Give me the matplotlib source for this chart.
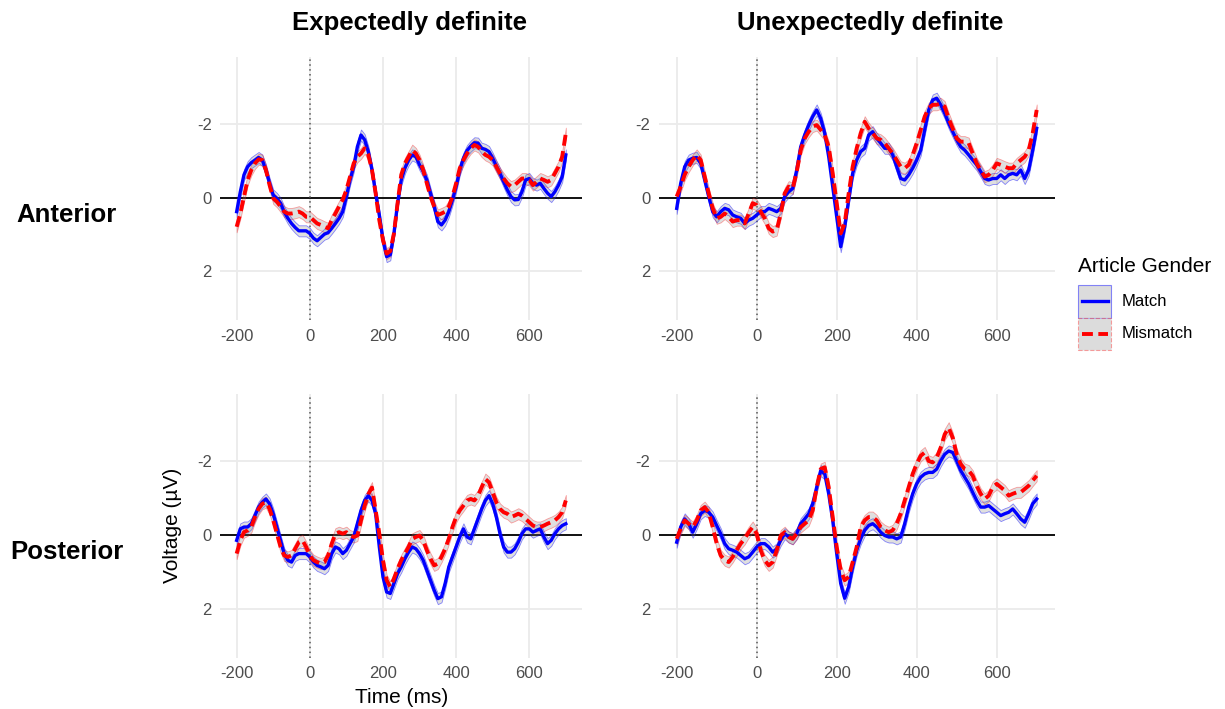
import matplotlib
matplotlib.use('Agg')
import matplotlib.pyplot as plt
import numpy as np
from matplotlib.lines import Line2D
from matplotlib.patches import Rectangle

plt.rcParams['font.family'] = ['Liberation Sans', 'DejaVu Sans']

time_ms = np.arange(-200, 701, 10)

# grand-average ERPs (µV), one value every 10 ms from -200 to 700
ant_exp_match = [
    0.38, -0.16, -0.62, -0.84, -0.95, -1.02, -1.09, -1.02, -0.75, -0.39,
    -0.07, 0.02, 0.15, 0.38, 0.56, 0.70, 0.81, 0.90, 0.90, 0.90,
    0.97, 1.10, 1.17, 1.08, 0.99, 0.95, 0.83, 0.70, 0.56, 0.38,
    -0.03, -0.48, -0.84, -1.38, -1.70, -1.57, -1.25, -0.75, -0.12, 0.47,
    1.15, 1.60, 1.55, 0.97, 0.15, -0.48, -0.80, -1.02, -1.16, -1.11,
    -0.89, -0.71, -0.48, -0.12, 0.24, 0.65, 0.74, 0.61, 0.38, 0.06,
    -0.30, -0.75, -1.07, -1.28, -1.40, -1.49, -1.48, -1.34, -1.31, -1.25,
    -1.07, -0.86, -0.66, -0.43, -0.21, -0.03, 0.06, 0.05, -0.16, -0.48,
    -0.52, -0.39, -0.34, -0.39, -0.25, -0.12, -0.03, -0.16, -0.34, -0.57,
    -1.16]
ant_exp_mismatch = [
    0.79, 0.43, -0.03, -0.48, -0.75, -0.93, -1.04, -1.02, -0.75, -0.34,
    0.02, 0.11, 0.24, 0.38, 0.43, 0.43, 0.41, 0.38, 0.43, 0.52,
    0.52, 0.61, 0.70, 0.74, 0.79, 0.83, 0.61, 0.43, 0.24, 0.06,
    -0.21, -0.57, -0.93, -1.11, -1.20, -1.34, -1.16, -0.75, -0.12, 0.61,
    1.15, 1.52, 1.45, 0.97, 0.15, -0.62, -0.93, -1.11, -1.29, -1.20,
    -1.02, -0.75, -0.39, -0.03, 0.24, 0.47, 0.43, 0.38, 0.24, -0.03,
    -0.39, -0.80, -1.02, -1.20, -1.34, -1.43, -1.38, -1.25, -1.16, -1.11,
    -1.02, -0.84, -0.66, -0.52, -0.39, -0.30, -0.34, -0.43, -0.52, -0.52,
    -0.48, -0.34, -0.43, -0.52, -0.48, -0.43, -0.48, -0.66, -0.84, -1.11,
    -1.75]

ant_unexp_match = [
    0.29, -0.39, -0.84, -1.02, -1.07, -1.09, -0.93, -0.48, -0.03, 0.38,
    0.52, 0.38, 0.29, 0.33, 0.47, 0.52, 0.56, 0.70, 0.61, 0.56,
    0.47, 0.38, 0.38, 0.29, 0.33, 0.38, 0.29, -0.03, -0.16, -0.25,
    -0.75, -1.38, -1.70, -1.97, -2.20, -2.38, -2.15, -1.75, -1.11, -0.30,
    0.52, 1.33, 0.79, 0.06, -0.66, -1.02, -1.25, -1.34, -1.70, -1.79,
    -1.61, -1.48, -1.34, -1.34, -1.16, -0.84, -0.52, -0.48, -0.62, -0.80,
    -1.02, -1.29, -1.84, -2.38, -2.65, -2.70, -2.52, -2.29, -2.02, -1.79,
    -1.57, -1.38, -1.29, -1.16, -1.02, -0.89, -0.71, -0.52, -0.48, -0.52,
    -0.52, -0.62, -0.52, -0.62, -0.66, -0.62, -0.75, -0.52, -0.75, -1.29,
    -1.88]
ant_unexp_mismatch = [
    -0.03, -0.30, -0.62, -0.84, -1.02, -1.16, -1.02, -0.57, -0.12, 0.29,
    0.56, 0.52, 0.43, 0.52, 0.65, 0.61, 0.61, 0.70, 0.43, 0.15,
    0.20, 0.38, 0.56, 0.83, 0.92, 0.88, 0.43, -0.12, -0.30, -0.25,
    -0.71, -1.29, -1.61, -1.79, -1.93, -1.97, -1.84, -1.70, -1.38, -0.66,
    0.15, 0.97, 0.70, -0.12, -0.84, -1.34, -1.75, -2.06, -1.88, -1.75,
    -1.61, -1.57, -1.48, -1.34, -1.20, -1.02, -0.84, -0.80, -0.89, -1.16,
    -1.48, -1.84, -2.20, -2.43, -2.52, -2.52, -2.56, -2.47, -2.15, -1.88,
    -1.61, -1.52, -1.52, -1.48, -1.20, -0.93, -0.75, -0.57, -0.62, -0.75,
    -0.93, -0.89, -0.84, -0.80, -0.80, -0.93, -1.02, -1.11, -1.29, -1.75,
    -2.38]

post_exp_match = [
    0.15, -0.16, -0.21, -0.21, -0.30, -0.52, -0.75, -0.88, -0.97, -0.84,
    -0.57, -0.21, 0.15, 0.51, 0.69, 0.74, 0.56, 0.51, 0.51, 0.51,
    0.60, 0.74, 0.83, 0.87, 0.92, 0.83, 0.51, 0.33, 0.38, 0.51,
    0.42, 0.24, 0.06, -0.30, -0.66, -0.93, -1.06, -0.93, -0.57, 0.33,
    1.14, 1.55, 1.59, 1.32, 1.05, 0.87, 0.65, 0.47, 0.33, 0.38,
    0.51, 0.69, 0.96, 1.23, 1.50, 1.73, 1.68, 1.32, 0.87, 0.60,
    0.33, 0.06, -0.16, 0.06, 0.11, -0.16, -0.43, -0.70, -0.93, -1.06,
    -0.84, -0.48, -0.03, 0.33, 0.47, 0.47, 0.38, 0.20, -0.03, -0.16,
    -0.16, -0.07, -0.12, -0.16, 0.06, 0.24, 0.15, -0.03, -0.16, -0.25,
    -0.30]
post_exp_mismatch = [
    0.51, 0.15, -0.07, -0.12, -0.21, -0.48, -0.70, -0.84, -0.88, -0.70,
    -0.39, -0.03, 0.33, 0.56, 0.60, 0.56, 0.38, 0.20, 0.15, 0.33,
    0.56, 0.69, 0.74, 0.78, 0.74, 0.56, 0.24, -0.03, -0.07, -0.03,
    -0.07, 0.02, 0.06, 0.02, -0.39, -0.79, -1.10, -1.28, -0.66, -0.03,
    0.69, 1.23, 1.41, 1.19, 0.92, 0.69, 0.51, 0.33, 0.11, 0.06,
    0.02, 0.15, 0.42, 0.65, 0.83, 0.78, 0.60, 0.38, 0.11, -0.21,
    -0.48, -0.66, -0.79, -0.93, -0.97, -0.93, -1.06, -1.29, -1.51, -1.42,
    -1.15, -0.88, -0.70, -0.61, -0.57, -0.48, -0.52, -0.57, -0.52, -0.43,
    -0.34, -0.25, -0.21, -0.21, -0.25, -0.30, -0.34, -0.39, -0.48, -0.61,
    -0.93]

post_unexp_match = [
    0.20, -0.21, -0.43, -0.30, -0.07, -0.30, -0.57, -0.66, -0.61, -0.48,
    -0.25, -0.03, 0.24, 0.38, 0.42, 0.47, 0.56, 0.65, 0.60, 0.47,
    0.33, 0.24, 0.24, 0.33, 0.47, 0.38, 0.15, -0.03, 0.06, 0.11,
    -0.03, -0.30, -0.43, -0.57, -0.84, -1.29, -1.74, -1.65, -1.11, -0.39,
    0.51, 1.32, 1.72, 1.41, 0.87, 0.42, 0.11, -0.12, -0.25, -0.30,
    -0.21, -0.07, 0.02, 0.06, 0.06, 0.11, 0.06, -0.30, -0.75, -1.11,
    -1.38, -1.56, -1.65, -1.69, -1.69, -1.78, -2.00, -2.18, -2.27, -2.23,
    -2.00, -1.74, -1.56, -1.38, -1.15, -0.93, -0.75, -0.75, -0.79, -0.70,
    -0.61, -0.52, -0.57, -0.61, -0.70, -0.57, -0.43, -0.34, -0.57, -0.84,
    -0.97]
post_unexp_mismatch = [
    0.11, -0.16, -0.39, -0.30, -0.21, -0.39, -0.66, -0.75, -0.61, -0.21,
    0.24, 0.56, 0.69, 0.74, 0.60, 0.42, 0.24, 0.11, -0.07, -0.21,
    -0.03, 0.42, 0.69, 0.83, 0.74, 0.42, 0.02, -0.07, 0.06, 0.11,
    -0.03, -0.21, -0.30, -0.39, -0.66, -1.29, -1.78, -1.83, -1.29, -0.48,
    0.33, 0.96, 1.23, 1.14, 0.74, 0.33, -0.21, -0.39, -0.48, -0.48,
    -0.39, -0.21, -0.12, -0.07, -0.12, -0.30, -0.57, -0.93, -1.29, -1.65,
    -1.92, -2.14, -2.23, -2.00, -1.96, -2.09, -2.36, -2.72, -2.90, -2.63,
    -2.18, -1.92, -1.78, -1.74, -1.60, -1.33, -1.11, -0.97, -1.06, -1.29,
    -1.38, -1.29, -1.20, -1.06, -1.11, -1.15, -1.15, -1.24, -1.33, -1.47,
    -1.60]

# standard error half-width of the ribbons (µV)
se_match = 0.15
se_mismatch = 0.15

x_ticks = [-200, 0, 200, 400, 600]
x_tick_labels = ['-200', '0', '200', '400', '600']
y_ticks = [-2, 0, 2]
y_tick_labels = ['-2', '0', '2']

col_titles = ['Expectedly definite', 'Unexpectedly definite']
row_titles = ['Anterior', 'Posterior']
conditions = ['Match', 'Mismatch']

W, H = 1225, 709
fig = plt.figure(figsize=(W / 100, H / 100), dpi=100)

def px_axes(left, top, right, bottom):
    return fig.add_axes([left / W, 1 - bottom / H, (right - left) / W, (bottom - top) / H])

panels = [
    (px_axes(220.2, 56.7, 582.3, 320.2), ant_exp_match, ant_exp_mismatch),
    (px_axes(658.7, 56.7, 1054.7, 320.2), ant_unexp_match, ant_unexp_mismatch),
    (px_axes(220.2, 393.6, 582.3, 657.5), post_exp_match, post_exp_mismatch),
    (px_axes(658.7, 393.6, 1054.7, 657.5), post_unexp_match, post_unexp_mismatch),
]

blue = '#0000ff'
red = '#ff0000'
band = (0.5, 0.5, 0.5, 0.25)
blue_edge = (0, 0, 1, 0.45)
red_edge = (1, 0, 0, 0.35)
red_dash = (2.8, 1.4)

for ax, match, mismatch in panels:
    match = np.array(match)
    mismatch = np.array(mismatch)
    ax.set_xlim(-245, 745)
    ax.set_ylim(3.325, -3.825)
    ax.set_xticks(x_ticks, labels=x_tick_labels)
    ax.set_yticks(y_ticks, labels=y_tick_labels)
    ax.grid(True, color='#ebebeb', lw=1.3, zorder=0)
    ax.set_axisbelow(True)
    for s in ax.spines.values():
        s.set_visible(False)
    ax.tick_params(length=0, labelsize=12, labelcolor='#4d4d4d', pad=6)

    ax.axhline(0, color='black', lw=1.3, zorder=1.5)
    ax.axvline(0, color='#555555', lw=1.1, ls=(0, (1, 2.2)), zorder=1.5)

    ax.fill_between(time_ms, match - se_match, match + se_match,
                    facecolor=band, edgecolor=blue_edge, lw=0.6, zorder=2)
    ax.fill_between(time_ms, mismatch - se_mismatch, mismatch + se_mismatch,
                    facecolor=band, edgecolor=red_edge, lw=0.6, zorder=2)
    ax.plot(time_ms, match, color=blue, lw=2.4, zorder=3)
    ax.plot(time_ms, mismatch, color=red, lw=2.8, dashes=red_dash, zorder=4)

fig.text(409 / W, 1 - 30 / H, col_titles[0], ha='center', va='baseline',
         fontsize=18.5, fontweight='bold')
fig.text(870 / W, 1 - 30 / H, col_titles[1], ha='center', va='baseline',
         fontsize=18.5, fontweight='bold')
fig.text(66.5 / W, 1 - 222 / H, row_titles[0], ha='center', va='baseline',
         fontsize=18.5, fontweight='bold')
fig.text(66.5 / W, 1 - 559 / H, row_titles[1], ha='center', va='baseline',
         fontsize=18.5, fontweight='bold')

fig.text(173 / W, 1 - 525.5 / H, 'Voltage (µV)', rotation=90, ha='center',
         va='center', fontsize=15)
fig.text(401.5 / W, 1 - 703 / H, 'Time (ms)', ha='center', va='baseline',
         fontsize=15)

# legend, laid out by hand in pixel units
fig.text(1078 / W, 1 - 272 / H, 'Article Gender', ha='left', va='baseline',
         fontsize=15)
key_styles = [
    (blue_edge, '-', dict(color=blue, lw=2.4)),
    (red_edge, '--', dict(color=red, lw=2.8, dashes=red_dash)),
]
key_top = 285
key_size = 32.5
for i, (label, (edge, edge_ls, line_kw)) in enumerate(zip(conditions, key_styles)):
    top = key_top + i * key_size
    fig.add_artist(Rectangle((1078 / W, 1 - (top + key_size) / H),
                             33 / W, key_size / H, transform=fig.transFigure,
                             facecolor='#dcdcdc', edgecolor=edge, lw=0.8,
                             ls=edge_ls))
    yc = 1 - (top + key_size / 2) / H
    fig.add_artist(Line2D([1082 / W, 1108 / W], [yc, yc],
                          transform=fig.transFigure, **line_kw))
    fig.text(1122 / W, yc, label, ha='left', va='center', fontsize=12)

fig.savefig('out.png', dpi=100)
